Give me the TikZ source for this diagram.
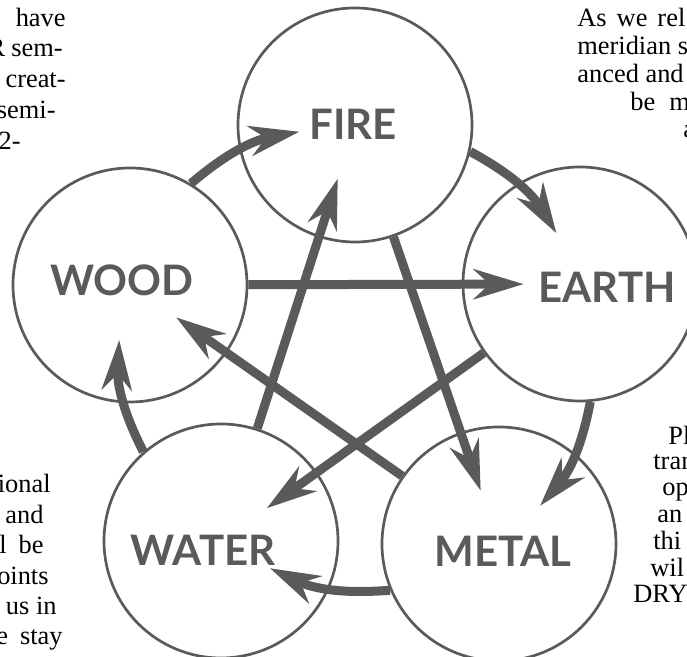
\documentclass[tikz,border=0pt]{standalone}
\usepackage{fontspec}
\setmainfont{Liberation Serif}
\newfontfamily\elementfont{Lato}
\usepackage{tikz}
\usetikzlibrary{arrows.meta}
\usepackage{xcolor}
\definecolor{wxGray}{HTML}{5A5A5A}
\tikzset{
    % circles and their names
    element/.style={circle,draw=wxGray,line width=1.35pt,minimum size=117pt,inner sep=0pt},
    elemlabel/.style={text=wxGray,font=\elementfont\bfseries\fontsize{21}{25}\selectfont,inner sep=0pt},
    bodytext/.style={font=\fontsize{13.2}{16}\selectfont,inner sep=0pt},
    % Flow styles
    feeds/.style={-{Stealth[length=25pt,width=15pt,inset=8pt]},line width=4.5pt,wxGray},
    restrains/.style={-{Stealth[length=25pt,width=15pt,inset=8pt]},line width=4.5pt,wxGray,shorten >=-31pt}
}

\begin{document}
\begin{tikzpicture}[x=0.5pt,y=0.5pt]
    \useasboundingbox (0,0) rectangle (687,657);
    \clip (0,0) rectangle (687,657);

    % Page text round the figure (cut off at the edges)
    \node[bodytext,anchor=base east] (tl1) at (66,630) {have};
    \node[bodytext,anchor=base east] (tl2) at (63,600) {R\hspace{3pt}sem-};
    \node[bodytext,anchor=base east] (tl3) at (66,569) {creat-};
    \node[bodytext,anchor=base east] (tl4) at (56,538) {semi-};
    \node[bodytext,anchor=base east] (tl5) at (21,507) {2-};

    \node[bodytext,anchor=base west] (tr1) at (577,630) {As\hspace{5pt}we\hspace{5pt}rel};
    \node[bodytext,anchor=base west] (tr2) at (577,602) {meridian s};
    \node[bodytext,anchor=base west] (tr3) at (577,574) {anced and};
    \node[bodytext,anchor=base west] (tr4) at (630,546) {be\hspace{7pt}m};
    \node[bodytext,anchor=base west] (tr5) at (683,519) {a};

    \node[bodytext,anchor=base east] (bl1) at (51,164) {ional};
    \node[bodytext,anchor=base east] (bl2) at (44,133) {and};
    \node[bodytext,anchor=base east] (bl3) at (44,103) {l\hspace{6pt}be};
    \node[bodytext,anchor=base east] (bl4) at (49,72) {oints};
    \node[bodytext,anchor=base east] (bl5) at (57,42) {us in};
    \node[bodytext,anchor=base east] (bl6) at (63,12) {e\hspace{6pt}stay};

    \node[bodytext,anchor=base west] (br1) at (668,212) {Pl};
    \node[bodytext,anchor=base west] (br2) at (653,187) {tran};
    \node[bodytext,anchor=base west] (br3) at (662,161) {op};
    \node[bodytext,anchor=base west] (br4) at (657,134) {an};
    \node[bodytext,anchor=base west] (br5) at (653,107) {thi};
    \node[bodytext,anchor=base west] (br6) at (650,80) {wil};
    \node[bodytext,anchor=base west] (br7) at (633,54) {DRY};

    % The five elements
    \node[element] (fire) at (355,532) {};
    \node[element] (earth) at (580,373) {};
    \node[element] (metal) at (499,113) {};
    \node[element] (water) at (221,116) {};
    \node[element] (wood) at (130,372) {};

    % Generating cycle round the outside
    \draw[feeds] (wood.59) to[bend left=15] ([shift={(186.9:28pt)}]fire.center);
    \draw[feeds] (fire.-13) to[bend left=15] ([shift={(114.9:28pt)}]earth.center);
    \draw[feeds] (earth.-85) to[bend left=15] ([shift={(42.9:28pt)}]metal.center);
    \draw[feeds] (metal.203) to[bend left=15] ([shift={(-29.1:28pt)}]water.center);
    \draw[feeds] (water.131) to[bend left=15] ([shift={(258.9:28pt)}]wood.center);

    % Controlling cycle (the star)
    \draw[restrains] (wood) -- (earth);
    \draw[restrains] (earth) -- (water);
    \draw[restrains] (water) -- (fire);
    \draw[restrains] (fire) -- (metal);
    \draw[restrains] (metal) -- (wood);

    % Element names
    \node[elemlabel] (firename) at (353,533) {FIRE};
    \node[elemlabel] (earthname) at (607,370) {EARTH};
    \node[elemlabel] (woodname) at (122,377) {WOOD};
    \node[elemlabel] (watername) at (203,107) {WATER};
    \node[elemlabel] (metalname) at (503,106) {METAL};
\end{tikzpicture}
\end{document}
